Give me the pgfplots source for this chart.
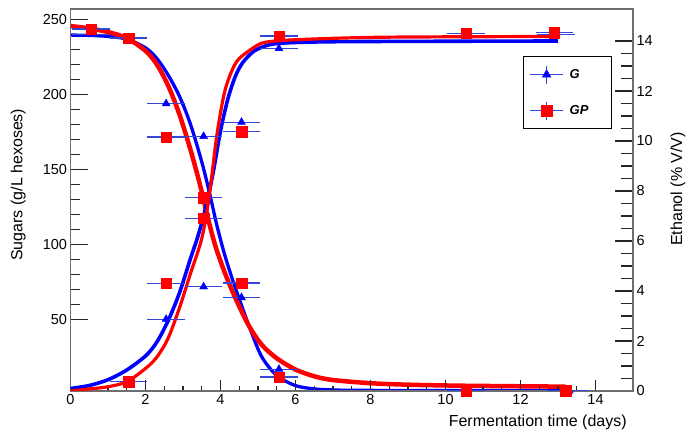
\documentclass[border=0pt]{standalone}
\usepackage{fontspec}
\setmainfont{Liberation Sans}
\usepackage{pgfplots}
\usepackage{pgfplotstable}
\pgfplotsset{compat=1.18}
\definecolor{framegray}{RGB}{110,110,110}
\definecolor{ebblue}{RGB}{50,70,215}

% fitted curves
\pgfplotstableread{
t s
0 239.5
0.5 239.3
1.0 238.6
1.5 236.8
2.0 231
2.3 224
2.6 213
2.9 199
3.2 180
3.5 155
3.7 135
3.9 113
4.1 94
4.3 78
4.55 60
4.8 43
5.1 25
5.5 12.5
6.0 5.8
6.5 3.6
7.0 2.9
8.0 2.6
13.3 2.5
}\sugarGfit
\pgfplotstableread{
t s
0 245.5
0.5 244
1.0 241.5
1.5 237.5
2.0 229
2.3 220
2.6 206
2.9 187
3.2 163
3.45 140
3.65 119
3.85 100
4.1 82
4.4 64
4.75 46
5.1 33
5.5 24
6.0 16.5
6.5 12
7.0 9.5
8.0 7.4
9.0 6.4
10.5 5.7
13.2 5.1
}\sugarGPfit
\pgfplotstableread{
t e
0 0.10
0.5 0.22
1.0 0.45
1.5 0.84
2.0 1.40
2.3 1.95
2.6 2.80
2.9 3.90
3.2 5.30
3.4 6.20
3.6 7.30
3.8 8.70
4.0 10.4
4.2 11.7
4.4 12.6
4.6 13.15
4.9 13.6
5.3 13.85
5.7 13.92
6.5 13.96
8.0 13.98
13.0 14.0
}\ethGfit
\pgfplotstableread{
t e
0 0.0
0.5 0.08
1.0 0.17
1.5 0.37
2.0 0.90
2.3 1.35
2.6 2.10
2.9 3.30
3.2 4.70
3.5 6.10
3.7 7.80
3.9 10.2
4.1 11.9
4.3 12.8
4.5 13.3
4.9 13.75
5.2 13.95
6.0 14.05
8.3 14.15
12.95 14.18
}\ethGPfit
% measured points
\pgfplotstableread{
t s
0.55 240
1.55 237
2.55 193.8
3.55 172
4.56 64.5
5.56 16.7
13.3 2.3
}\sugarGpts
\pgfplotstableread{
t s
0.55 243.5
1.55 237.5
2.55 171.5
3.55 131
4.56 74.2
5.56 11.5
10.55 2.3
13.2 2.3
}\sugarGPpts
\pgfplotstableread{
t e
2.55 2.87
3.55 4.17
4.56 10.75
5.56 13.7
12.95 14.27
}\ethGpts
\pgfplotstableread{
t e
1.55 0.37
2.55 4.3
3.55 6.9
4.56 10.37
5.56 14.2
10.55 14.3
12.9 14.33
}\ethGPpts

\pgfplotsset{
  base/.style={
    scale only axis, width=562.5pt, height=382pt,
    at={(70.5pt,52pt)}, anchor=south west,
    xmin=0, xmax=15,
    axis line style={framegray, line width=1.5pt},
    tick style={black!85, line width=1.2pt},
    ticklabel style={font=\fontsize{14.5}{16}\selectfont},
    /pgf/number format/assume math mode=true,
  },
  ebars/.style={error bars/.cd, x dir=both, x fixed=0.5, error mark=none,
    error bar style={ebblue, line width=1.2pt}},
}

\begin{document}
\begin{tikzpicture}
\path[use as bounding box] (0,0) rectangle (697pt,443pt);
% left axis: sugars
\begin{axis}[base,
  ymin=2.2, ymax=256.9,
  xtick=\empty, ytick={50,100,150,200,250}, minor y tick num=4,
  ytick pos=left,
  major tick length=18pt, minor tick length=10pt,
  ylabel={Sugars (g/L hexoses)},
  ylabel style={font=\fontsize{16}{18}\selectfont, at={(axis description cs:-0.093,0.54)}, anchor=center, rotate=0},
]
\addplot[blue, line width=3.3pt, smooth] table[x=t,y=s] {\sugarGfit};
\addplot[red, line width=4.5pt, smooth] table[x=t,y=s] {\sugarGPfit};
\end{axis}
% x axis
\begin{axis}[base,
  ymin=0, ymax=1,
  ytick=\empty, xtick={0,2,...,14}, minor x tick num=3,
  xtick pos=bottom,
  major tick length=11pt, minor tick length=4.5pt,
  xlabel={Fermentation time (days)},
  xlabel style={font=\fontsize{16}{18}\selectfont, at={(axis description cs:0.995,-0.082)}, anchor=east},
]
\end{axis}
% right axis: ethanol
\begin{axis}[base,
  ymin=0, ymax=15.28,
  xtick=\empty, ytick={0,2,...,14}, minor y tick num=3,
  ytick pos=right, yticklabel pos=right,
  major tick length=18pt, minor tick length=12pt,
  ylabel={Ethanol (\% V/V)},
  ylabel style={font=\fontsize{16}{18}\selectfont, at={(axis description cs:1.08,0.529)}, anchor=center, rotate=0},
]
\addplot[blue, line width=3.6pt, smooth] table[x=t,y=e] {\ethGfit};
\addplot[red, line width=3.2pt, smooth] table[x=t,y=e] {\ethGPfit};
\addplot[only marks, mark=triangle*, mark size=4.6pt, mark options={draw=blue, fill=blue, line width=0.4pt}, ebars] table[x=t,y=e] {\ethGpts};
\addplot[only marks, mark=square*, mark size=5.2pt, mark options={draw=red, fill=red, line width=0.4pt}, ebars] table[x=t,y=e] {\ethGPpts};
\end{axis}
% sugar points + legend
\begin{axis}[base, hide axis,
  ymin=2.2, ymax=256.9, clip=false,
  legend style={at={(axis description cs:0.804,0.877)}, anchor=north west,
    draw=black, line width=1.5pt, fill=white, inner xsep=6pt, inner ysep=8.3pt,
    column sep=4pt, row sep=17pt, cells={anchor=west, inner sep=0pt},
    font=\bfseries\itshape\fontsize{13}{15}\selectfont},
]
\addplot[forget plot, only marks, mark=triangle*, mark size=4.6pt, mark options={draw=blue, fill=blue, line width=0.4pt}, ebars] table[x=t,y=s] {\sugarGpts};
\addplot[forget plot, only marks, mark=square*, mark size=5.2pt, mark options={draw=red, fill=red, line width=0.4pt}, ebars] table[x=t,y=s] {\sugarGPpts};
\addlegendimage{legend image code/.code={
  \draw[ebblue, line width=1.2pt] (0pt,0pt) -- (33pt,0pt);
  \draw[ebblue, line width=1.2pt] (16.5pt,-9pt) -- (16.5pt,9pt);
  \draw plot[mark=triangle*, mark size=5pt, mark options={draw=blue, fill=blue, line width=0.4pt}] coordinates {(16.5pt,0pt)};
}}
\addlegendentry{\makebox[34pt][l]{G}}
\addlegendimage{legend image code/.code={
  \draw[ebblue, line width=1.2pt] (0pt,0pt) -- (33pt,0pt);
  \draw[ebblue, line width=1.2pt] (16.5pt,-9pt) -- (16.5pt,9pt);
  \draw plot[mark=square*, mark size=5.8pt, mark options={draw=red, fill=red, line width=0.4pt}] coordinates {(16.5pt,0pt)};
}}
\addlegendentry{\makebox[34pt][l]{GP}}
\end{axis}
\end{tikzpicture}
\end{document}
